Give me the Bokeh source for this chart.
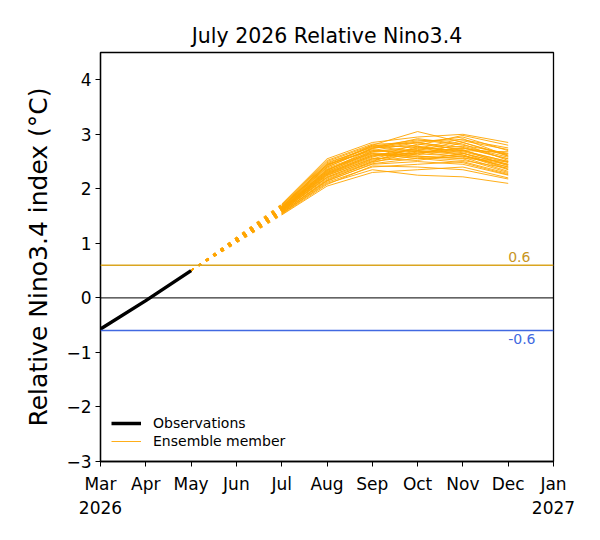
from bokeh.plotting import figure
from bokeh.models import Range1d, FixedTicker, Span, Legend, LegendItem, Label
from bokeh.embed import file_html
from bokeh.resources import INLINE

# ---- data ----
month_labels = ["Mar\n2026", "Apr", "May", "Jun", "Jul", "Aug", "Sep", "Oct", "Nov", "Dec", "Jan\n2027"]
obs_months = [0, 1, 2]
obs_values = [-0.57, -0.05, 0.50]

start_month = 2
start_value = 0.50
fc_months = [4, 5, 6, 7, 8, 9]

jul_vals = [1.62, 1.55, 1.70, 1.65, 1.58, 1.60, 1.68, 1.52, 1.63, 1.66, 1.57, 1.61, 1.72, 1.59, 1.64, 1.54, 1.67, 1.60,
            1.62, 1.69, 1.56, 1.63, 1.58, 1.65, 1.61, 1.53, 1.66, 1.60, 1.64, 1.71, 1.57, 1.62, 1.59, 1.67, 1.55, 1.63]
aug_vals = [2.30, 2.10, 2.50, 2.40, 2.20, 2.25, 2.45, 2.05, 2.35, 2.42, 2.15, 2.28, 2.55, 2.22, 2.38, 2.12, 2.44, 2.26,
            2.32, 2.48, 2.18, 2.34, 2.24, 2.40, 2.29, 2.08, 2.43, 2.27, 2.36, 2.52, 2.16, 2.31, 2.21, 2.46, 2.14, 2.33]
sep_vals = [2.62, 2.35, 2.80, 2.75, 2.50, 2.55, 2.70, 2.30, 2.65, 2.78, 2.45, 2.60, 2.85, 2.52, 2.68, 2.40, 2.72, 2.58,
            2.64, 2.76, 2.48, 2.70, 2.56, 2.74, 2.62, 2.42, 2.80, 2.60, 2.66, 2.82, 2.50, 2.68, 2.54, 2.78, 2.46, 2.74]
oct_vals = [2.70, 2.25, 3.05, 2.80, 2.60, 2.75, 2.85, 2.35, 2.55, 2.90, 2.50, 2.65, 2.95, 2.70, 2.78, 2.45, 2.62, 2.82,
            2.58, 2.88, 2.68, 2.72, 2.52, 2.92, 2.66, 2.40, 2.76, 2.74, 2.60, 2.84, 2.78, 2.70, 2.64, 2.68, 2.56, 2.86]
nov_vals = [2.65, 2.22, 2.85, 2.98, 2.55, 2.70, 2.95, 2.40, 2.60, 2.80, 2.45, 2.75, 3.00, 2.62, 2.68, 2.50, 2.85, 2.72,
            2.52, 2.90, 2.58, 2.78, 2.65, 2.82, 2.70, 2.35, 2.62, 2.92, 2.56, 2.76, 2.66, 2.88, 2.60, 2.74, 2.48, 2.70]
dec_vals = [2.45, 2.10, 2.60, 2.80, 2.30, 2.50, 2.70, 2.20, 2.40, 2.65, 2.25, 2.55, 2.85, 2.35, 2.48, 2.28, 2.62, 2.42,
            2.38, 2.75, 2.32, 2.58, 2.45, 2.52, 2.68, 2.18, 2.40, 2.60, 2.50, 2.55, 2.36, 2.72, 2.44, 2.64, 2.26, 2.50]

thresholds = [0.6, -0.6]
threshold_labels = ["0.6", "-0.6"]
y_ticks = [-3, -2, -1, 0, 1, 2, 3, 4]

FONT = "DejaVu Sans"

p = figure(width=600, height=540, output_backend="svg", toolbar_location=None,
           x_range=Range1d(0, 10), y_range=Range1d(-3, 4.5),
           min_border_left=100, min_border_right=47, min_border_top=52, min_border_bottom=79,
           background_fill_color="white", border_fill_color="white")

p.title.text = "July 2026 Relative Nino3.4"
p.title.align = "center"
p.title.text_font = FONT
p.title.text_font_style = "normal"
p.title.text_font_size = "20.5px"
p.title.text_color = "black"

p.xgrid.visible = False
p.ygrid.visible = False
p.outline_line_color = "black"
p.outline_line_width = 1.3
p.outline_line_alpha = 1

for ax in (p.xaxis[0], p.yaxis[0]):
    ax.axis_line_color = "black"
    ax.axis_line_width = 1.3
    ax.major_tick_line_color = "black"
    ax.major_tick_out = 5
    ax.major_tick_in = 0
    ax.minor_tick_line_color = None
    ax.major_label_text_font = FONT
    ax.major_label_text_font_size = "17px"
    ax.major_label_text_color = "black"

p.xaxis.major_label_standoff = 7
p.yaxis.major_label_standoff = 4
p.xaxis.ticker = FixedTicker(ticks=list(range(len(month_labels))))
p.xaxis.major_label_overrides = {i: lab for i, lab in enumerate(month_labels)}
p.yaxis.ticker = FixedTicker(ticks=y_ticks)
p.yaxis.major_label_overrides = {t: str(t).replace("-", "\u2212") for t in y_ticks}
p.yaxis.axis_label = "Relative Nino3.4 index (\u00b0C)"
p.yaxis.axis_label_text_font = FONT
p.yaxis.axis_label_text_font_size = "25px"
p.yaxis.axis_label_text_font_style = "normal"
p.yaxis.axis_label_text_color = "black"
p.yaxis.axis_label_standoff = 10

# reference lines
p.add_layout(Span(location=0, dimension="width", line_color="black", line_width=1))
p.add_layout(Span(location=thresholds[0], dimension="width", line_color="goldenrod", line_width=1.5))
p.add_layout(Span(location=thresholds[1], dimension="width", line_color="royalblue", line_width=1.5))
p.add_layout(Label(x=9, y=thresholds[0], text=threshold_labels[0], text_font=FONT, text_font_size="14px",
                   text_color="#c8961e", text_baseline="bottom", y_offset=3))
p.add_layout(Label(x=9, y=thresholds[1], text=threshold_labels[1], text_font=FONT, text_font_size="14px",
                   text_color="royalblue", text_baseline="top", y_offset=-3))

# ensemble members
first = None
members = list(zip(jul_vals, aug_vals, sep_vals, oct_vals, nov_vals, dec_vals))
for vals in members:
    p.line([start_month, fc_months[0]], [start_value, vals[0]], line_color="orange",
           line_width=1.3, line_dash="3 6", line_alpha=0.75)
    r = p.line(fc_months, list(vals), line_color="orange", line_width=1, line_alpha=0.9)
    if first is None:
        first = r

obs = p.line(obs_months, obs_values, line_color="black", line_width=3.5)

legend = Legend(items=[LegendItem(label="Observations", renderers=[obs]),
                       LegendItem(label="Ensemble member", renderers=[first])],
                location=(11, 12), border_line_color=None, background_fill_alpha=0,
                label_text_font=FONT, label_text_font_size="14px", label_text_color="black",
                glyph_width=30, label_height=16, glyph_height=16, spacing=2, padding=6,
                label_standoff=12)
p.add_layout(legend, "center")

open("out.html", "w").write(file_html(p, INLINE))
